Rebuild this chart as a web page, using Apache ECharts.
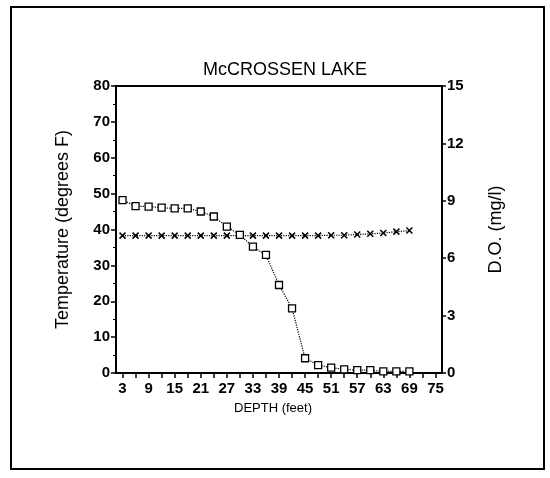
<!DOCTYPE html>
<html>
<head>
<meta charset="utf-8">
<script src="https://cdn.jsdelivr.net/npm/echarts@6/dist/echarts.min.js"></script>
<style>
  html, body { margin: 0; padding: 0; background: #fff; }
  #chart { width: 550px; height: 478px; }
</style>
</head>
<body>
<div id="chart"></div>
<script>
// depth in feet
var depths = [3, 6, 9, 12, 15, 18, 21, 24, 27, 30, 33, 36, 39, 42, 45, 48, 51, 54, 57, 60, 63, 66, 69];
// temperature (degrees F), left axis
var temperature = [38.3, 38.3, 38.3, 38.3, 38.3, 38.3, 38.3, 38.3, 38.3, 38.3, 38.3, 38.3, 38.3, 38.3, 38.3,
                   38.3, 38.4, 38.4, 38.6, 38.8, 39.0, 39.4, 39.7];
// dissolved oxygen (mg/l), right axis
var dissolvedO2 = [9.04, 8.72, 8.70, 8.64, 8.60, 8.60, 8.44, 8.18, 7.65, 7.22, 6.60, 6.17, 4.60, 3.38,
                   0.77, 0.41, 0.28, 0.19, 0.15, 0.15, 0.08, 0.08, 0.08];
var depthLabels = [3, 9, 15, 21, 27, 33, 39, 45, 51, 57, 63, 69, 75];
var depthTicks = [3, 6, 9, 12, 15, 18, 21, 24, 27, 30, 33, 36, 39, 42, 45, 48, 51, 54, 57, 60, 63, 66, 69, 72, 75];

function pairs(xs, ys) {
  return xs.map(function (x, i) { return [x, ys[i]]; });
}

var font = 'Liberation Sans, Arial, sans-serif';
var axisLabelStyle = { color: '#000', fontFamily: font, fontSize: 15, fontWeight: 'bold' };

var myChart = echarts.init(document.getElementById('chart'));

var option = {
  backgroundColor: '#fff',
  animation: false,
  title: {
    text: 'McCROSSEN LAKE',
    left: 280,
    top: 56,
    textAlign: 'center',
    textStyle: { color: '#000', fontFamily: font, fontSize: 18, fontWeight: 'normal' }
  },
  graphic: [{
    type: 'rect',
    shape: { x: 11, y: 7, width: 533, height: 462 },
    style: { fill: 'none', stroke: '#000', lineWidth: 2 }
  }],
  grid: {
    left: 116,
    right: 108,
    top: 86,
    bottom: 105,
    show: true,
    borderColor: '#000',
    borderWidth: 2
  },
  xAxis: {
    type: 'value',
    min: 1.5,
    max: 76.5,
    name: 'DEPTH (feet)',
    nameLocation: 'middle',
    nameGap: 29,
    nameTextStyle: { color: '#000', fontFamily: font, fontSize: 13, padding: [0, 12, 0, 0] },
    axisLine: { lineStyle: { color: '#000', width: 2 } },
    axisTick: { show: true, length: 5, customValues: depthTicks, lineStyle: { color: '#000', width: 1.5 } },
    axisLabel: Object.assign({ customValues: depthLabels, margin: 8 }, axisLabelStyle),
    splitLine: { show: false }
  },
  yAxis: [{
    type: 'value',
    min: 0,
    max: 80,
    interval: 10,
    name: 'Temperature (degrees F)',
    nameLocation: 'middle',
    nameGap: 44,
    nameRotate: 90,
    nameTextStyle: { color: '#000', fontFamily: font, fontSize: 18 },
    axisLine: { show: true, lineStyle: { color: '#000', width: 2 } },
    axisTick: { show: true, length: 5, lineStyle: { color: '#000', width: 1.5 } },
    minorTick: { show: true, splitNumber: 2, length: 3, lineStyle: { color: '#000', width: 1 } },
    axisLabel: Object.assign({ margin: 6 }, axisLabelStyle),
    splitLine: { show: false }
  }, {
    type: 'value',
    min: 0,
    max: 15,
    interval: 3,
    position: 'right',
    name: 'D.O. (mg/l)',
    nameLocation: 'middle',
    nameGap: 45,
    nameRotate: 90,
    nameTextStyle: { color: '#000', fontFamily: font, fontSize: 18 },
    axisLine: { show: true, lineStyle: { color: '#000', width: 2 } },
    axisTick: { show: true, length: 4, lineStyle: { color: '#000', width: 1.5 } },
    axisLabel: Object.assign({ margin: 5 }, axisLabelStyle),
    splitLine: { show: false }
  }],
  series: [{
    name: 'Temperature',
    type: 'line',
    yAxisIndex: 0,
    data: pairs(depths, temperature),
    symbol: 'path://M0,0L10,10M10,0L0,10',
    symbolSize: 6,
    itemStyle: { color: '#000', borderColor: '#000', borderWidth: 1.5 },
    lineStyle: { color: '#000', width: 1.2, type: 'dotted' }
  }, {
    name: 'D.O.',
    type: 'line',
    yAxisIndex: 1,
    data: pairs(depths, dissolvedO2),
    symbol: 'rect',
    symbolSize: 7,
    itemStyle: { color: '#fff', borderColor: '#000', borderWidth: 1.3 },
    lineStyle: { color: '#000', width: 1.2, type: 'dotted' }
  }]
};

myChart.setOption(option);
</script>
</body>
</html>
